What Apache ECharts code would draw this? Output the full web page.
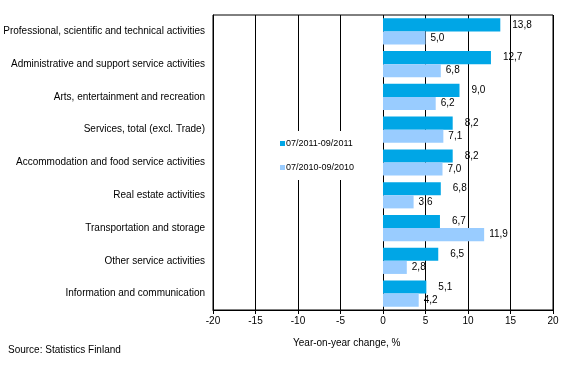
<!DOCTYPE html>
<html><head><meta charset="utf-8">
<script src="https://cdn.jsdelivr.net/npm/echarts@6/dist/echarts.min.js"></script>
<style>html,body{margin:0;padding:0;background:#fff}#c{width:569px;height:374px}</style>
</head><body><div id="c"></div>
<script>
const categories = [
  "Professional, scientific and technical activities",
  "Administrative and support service activities",
  "Arts, entertainment and recreation",
  "Services, total (excl. Trade)",
  "Accommodation and food service activities",
  "Real estate activities",
  "Transportation and storage",
  "Other service activities",
  "Information and communication"
];
const seriesNames = ["07/2011-09/2011", "07/2010-09/2010"];
const values2011 = [13.8, 12.7, 9.0, 8.2, 8.2, 6.8, 6.7, 6.5, 5.1];
const values2010 = [5.0, 6.8, 6.2, 7.1, 7.0, 3.6, 11.9, 2.8, 4.2];
const xTicks = [-20, -15, -10, -5, 0, 5, 10, 15, 20];

const FONT = "Liberation Sans, Arial, sans-serif";
const fmt = p => p.value.toFixed(1).replace('.', ',');
const chart = echarts.init(document.getElementById('c'), null, {renderer: 'canvas'});
chart.setOption({
  animation: false,
  textStyle: {fontFamily: FONT},
  grid: {left: 213, right: 16, top: 15, bottom: 64, show: true, borderColor: '#000', borderWidth: 1},
  legend: {
    orient: 'vertical', left: 275, top: 131,
    backgroundColor: '#fff', padding: [8, 6, 8, 5],
    itemWidth: 5, itemHeight: 5, itemGap: 15, icon: 'rect',
    textStyle: {fontSize: 9, color: '#000', fontFamily: FONT, padding: [0, 0, 0, -4]},
    data: seriesNames
  },
  xAxis: {
    type: 'value', min: xTicks[0], max: xTicks[xTicks.length - 1], interval: 5,
    axisLine: {show: true, lineStyle: {color: '#000'}},
    axisTick: {show: true, length: 4, lineStyle: {color: '#000'}},
    axisLabel: {color: '#000', fontSize: 10, margin: 6},
    splitLine: {show: true, lineStyle: {color: '#000', width: 1}}
  },
  yAxis: {
    type: 'category', data: categories, inverse: true,
    axisLine: {show: true, onZero: false, lineStyle: {color: '#000'}},
    axisTick: {show: false},
    axisLabel: {color: '#000', fontSize: 10, margin: 8}
  },
  series: [
    {name: seriesNames[0], type: 'bar', data: values2011, barGap: '0%', barCategoryGap: '20%',
     itemStyle: {color: '#00A6E6'},
     label: {show: true, position: 'right', distance: 12, color: '#000', fontSize: 10, formatter: fmt}},
    {name: seriesNames[1], type: 'bar', data: values2010,
     itemStyle: {color: '#99CCFF'},
     label: {show: true, position: 'right', distance: 5, color: '#000', fontSize: 10, formatter: fmt}}
  ],
  graphic: [
    {type: 'text', left: 293, top: 338, style: {text: 'Year-on-year change, %', fontSize: 10, fill: '#000', fontFamily: FONT}},
    {type: 'text', left: 8, top: 345, style: {text: 'Source: Statistics Finland', fontSize: 10, fill: '#000', fontFamily: FONT}}
  ]
});
</script></body></html>
